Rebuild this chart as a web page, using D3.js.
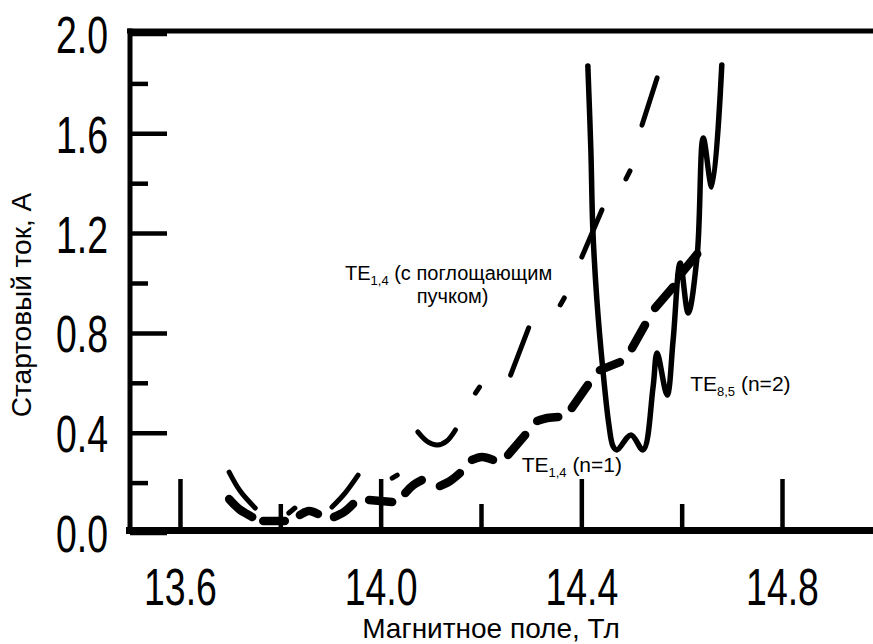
<!DOCTYPE html>
<html>
<head>
<meta charset="utf-8">
<script src="https://cdn.jsdelivr.net/npm/d3@7"></script>
<style>
  body { margin: 0; background: #fff; }
  svg { display: block; }
  text { font-family: "Liberation Sans", Arial, sans-serif; fill: #000; }
</style>
</head>
<body>
<svg id="chart" width="873" height="644"></svg>
<script>
// axis ticks
const xTicksMajor = [13.6, 14.0, 14.4, 14.8];
const xTicksMinor = [13.8, 14.2, 14.6];
const yTicksMajor = [0, 0.4, 0.8, 1.2, 1.6, 2.0];
const yTicksMinor = [0.2, 0.6, 1.0, 1.4, 1.8];

// TE8,5 (n=2) - solid line, [B, I]
const te85 = [
  [14.413, 1.870], [14.419, 1.533], [14.423, 1.212], [14.431, 0.932],
  [14.443, 0.651], [14.455, 0.431], [14.463, 0.347], [14.471, 0.331],
  [14.499, 0.391], [14.523, 0.331], [14.543, 0.583], [14.551, 0.719],
  [14.571, 0.551], [14.583, 0.772], [14.597, 1.080], [14.613, 0.880],
  [14.631, 1.112], [14.643, 1.581], [14.660, 1.385], [14.680, 1.874]
];

// TE1,4 (n=1) - thick dashes, one array per dash
const te14Dashes = [
  [[13.698, 0.134], [13.718, 0.094], [13.744, 0.062]],
  [[13.766, 0.046], [13.809, 0.046]],
  [[13.839, 0.070], [13.857, 0.086], [13.875, 0.074]],
  [[13.907, 0.062], [13.927, 0.082], [13.945, 0.114]],
  [[13.977, 0.130], [14.023, 0.122]],
  [[14.049, 0.158], [14.065, 0.190], [14.082, 0.210]],
  [[14.118, 0.186], [14.138, 0.206], [14.158, 0.238]],
  [[14.182, 0.291], [14.202, 0.303], [14.224, 0.291]],
  [[14.254, 0.311], [14.288, 0.391]],
  [[14.312, 0.447], [14.332, 0.459], [14.354, 0.463]],
  [[14.381, 0.499], [14.413, 0.591]],
  [[14.437, 0.651], [14.477, 0.683]],
  [[14.501, 0.739], [14.527, 0.832]],
  [[14.547, 0.900], [14.583, 0.984]],
  [[14.595, 1.028], [14.631, 1.116]]
];

// TE1,4 with absorbing beam - thin dash-dot pieces
const te14AbsDashes = [
  [[13.698, 0.242], [13.720, 0.166], [13.750, 0.098]],
  [[13.817, 0.078], [13.829, 0.098]],
  [[13.903, 0.102], [13.929, 0.158], [13.955, 0.230]],
  [[14.023, 0.218], [14.033, 0.230]],
  [[14.074, 0.403], [14.094, 0.363], [14.113, 0.351], [14.132, 0.367], [14.149, 0.411]],
  [[14.189, 0.559], [14.197, 0.583]],
  [[14.259, 0.631], [14.295, 0.820]],
  [[14.358, 0.912], [14.366, 0.940]],
  [[14.401, 1.104], [14.441, 1.293]],
  [[14.489, 1.417], [14.497, 1.449]],
  [[14.521, 1.633], [14.551, 1.822]]
];

// curve labels: main text, subscript, rest, anchor [B, I], size
const labels = [
  { main: "TE", sub: "1,4", rest: " (с поглощающим", at: [13.929, 1.012], size: 20 },
  { main: "пучком)", sub: "", rest: "", at: [14.072, 0.920], size: 20 },
  { main: "TE", sub: "8,5", rest: " (n=2)", at: [14.617, 0.566], size: 21 },
  { main: "TE", sub: "1,4", rest: " (n=1)", at: [14.281, 0.244], size: 21 }
];

const xTitle = "Магнитное поле, Тл";
const yTitle = "Стартовый ток, А";

const svg = d3.select("#chart");
const width = +svg.attr("width");

const x = d3.scaleLinear().domain([13.5, 15.0]).range([129.8, 129.8 + 1.5 * 501.7]);
const y = d3.scaleLinear().domain([0, 2]).range([532.5, 33.5]);

const fmt = d3.format(".1f");

// frame lines
svg.append("line").attr("x1", 127).attr("x2", width).attr("y1", 31).attr("y2", 31)
  .attr("stroke", "#000").attr("stroke-width", 5);
svg.append("line").attr("x1", 126).attr("x2", width).attr("y1", 530.5).attr("y2", 530.5)
  .attr("stroke", "#000").attr("stroke-width", 7);
svg.append("line").attr("x1", 130).attr("x2", 130).attr("y1", 28.5).attr("y2", 534)
  .attr("stroke", "#000").attr("stroke-width", 5);

// y axis
let gy = svg.append("g").attr("transform", "translate(130,0)")
  .call(d3.axisLeft(y).tickValues(yTicksMajor).tickSize(-37).tickFormat(fmt));
gy.select(".domain").remove();
gy.selectAll("line").attr("stroke-width", 4.5);
gy.selectAll("text")
  .attr("x", 0).attr("dy", null)
  .attr("font-size", 52)
  .attr("transform", "translate(-22,19) scale(0.72,1)");

let gy2 = svg.append("g").attr("transform", "translate(130,0)")
  .call(d3.axisLeft(y).tickValues(yTicksMinor).tickSize(-18).tickFormat(""));
gy2.select(".domain").remove();
gy2.selectAll("line").attr("stroke-width", 4.5);

// x axis
let gx = svg.append("g").attr("transform", "translate(0,531)")
  .call(d3.axisBottom(x).tickValues(xTicksMajor).tickSize(-52).tickFormat(fmt));
gx.select(".domain").remove();
gx.selectAll("line").attr("stroke-width", 4.5);
gx.selectAll("text")
  .attr("y", 0).attr("dy", null)
  .attr("font-size", 52)
  .attr("transform", "translate(0,74) scale(0.72,1)");

let gx2 = svg.append("g").attr("transform", "translate(0,531)")
  .call(d3.axisBottom(x).tickValues(xTicksMinor).tickSize(-27).tickFormat(""));
gx2.select(".domain").remove();
gx2.selectAll("line").attr("stroke-width", 4.5);

svg.selectAll(".tick text").attr("font-family", '"Liberation Sans", Arial, sans-serif');

// titles
svg.append("text").attr("x", 491).attr("y", 638)
  .attr("text-anchor", "middle").attr("font-size", 28).text(xTitle);
svg.append("text").attr("transform", "translate(31,305) rotate(-90)")
  .attr("text-anchor", "middle").attr("font-size", 28).text(yTitle);

// curves
let line = d3.line().x(d => x(d[0])).y(d => y(d[1])).curve(d3.curveCatmullRom.alpha(0.5));

svg.append("path").datum(te85)
  .attr("d", line)
  .attr("fill", "none").attr("stroke", "#000").attr("stroke-width", 5.5)
  .attr("stroke-linecap", "round").attr("stroke-linejoin", "round");

svg.append("g").selectAll("path").data(te14AbsDashes).enter().append("path")
  .attr("d", line)
  .attr("fill", "none").attr("stroke", "#000").attr("stroke-width", 5)
  .attr("stroke-linecap", "round");

svg.append("g").selectAll("path").data(te14Dashes).enter().append("path")
  .attr("d", line)
  .attr("fill", "none").attr("stroke", "#000").attr("stroke-width", 8.5)
  .attr("stroke-linecap", "round");

// labels
labels.forEach(l => {
  let t = svg.append("text").attr("x", x(l.at[0])).attr("y", y(l.at[1])).attr("font-size", l.size);
  t.append("tspan").text(l.main);
  if (l.sub) {
    t.append("tspan").attr("font-size", 13).attr("dy", 5).text(l.sub);
    t.append("tspan").attr("dy", -5).text(l.rest);
  }
});
</script>
</body>
</html>
